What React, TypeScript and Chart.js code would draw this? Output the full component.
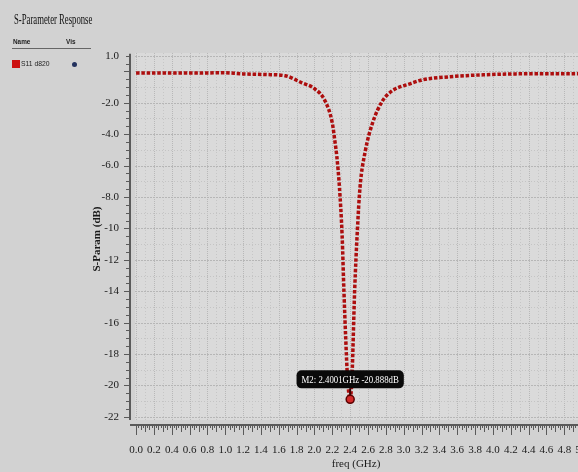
import React, { useEffect, useRef } from 'react';
import { Chart, registerables } from 'chart.js';

Chart.register(...registerables);

// ---- data ----
const freqGHz = [0.0, 0.4, 0.8, 0.95, 1.2, 1.45, 1.67, 1.86, 2.0, 2.12, 2.2, 2.23, 2.25, 2.28, 2.31, 2.33, 2.35, 2.37, 2.4, 2.42, 2.45, 2.48, 2.51, 2.57, 2.65, 2.76, 2.87, 3.07, 3.21, 3.52, 3.89, 4.26, 4.6, 5.0];
const s11dB = [-0.1, -0.1, -0.1, -0.08, -0.16, -0.2, -0.28, -0.73, -1.1, -1.9, -3.3, -4.5, -5.4, -7.4, -10.5, -14, -17, -19.5, -20.888, -19.5, -14, -10.2, -7.4, -5.06, -3.3, -1.9, -1.24, -0.79, -0.54, -0.34, -0.22, -0.16, -0.15, -0.15];

const xTickLabels = ['0.0', '0.2', '0.4', '0.6', '0.8', '1.0', '1.2', '1.4', '1.6', '1.8', '2.0', '2.2', '2.4', '2.6', '2.8', '3.0', '3.2', '3.4', '3.6', '3.8', '4.0', '4.2', '4.4', '4.6', '4.8', '5.0'];
const yTickLabels = ['1.0', '-2.0', '-4.0', '-6.0', '-8.0', '-10', '-12', '-14', '-16', '-18', '-20', '-22'];

const markerName = 'M2';
const markerFreq = 2.4001;
const markerDb = -20.888;

const seriesName = 'S11 d820';
const chartTitle = 'S-Parameter Response';

// ---- styles ----
const SERIF = "'Liberation Serif', 'Times New Roman', serif";
const OUTER_BG = '#d2d2d2';
const PLOT_BG = '#dadada';
const CURVE = '#ad0e0e';

const X_MIN = -0.068;
const X_MAX = 5.0;
const Y_MIN = -22.52;
const Y_MAX = 1.17;

const plotPlugin = {
  id: 'plotDecor',
  beforeDatasetsDraw(chart: any) {
    const { ctx, chartArea: a, scales } = chart;
    const x = scales.x;
    const y = scales.y;
    const L = a.left + 5;
    const B = a.bottom - 5;
    ctx.save();
    ctx.fillStyle = PLOT_BG;
    ctx.fillRect(L, a.top, a.right - L, B - a.top);
    ctx.beginPath();
    ctx.rect(L, a.top, a.right - L, B - a.top);
    ctx.clip();
    ctx.lineWidth = 1;
    for (let i = 0; i <= 50; i++) {
      const px = Math.round(x.getPixelForValue(i / 10)) + 0.5;
      const major = i % 2 === 0;
      ctx.strokeStyle = major ? '#b8b8b8' : '#c6c6c6';
      ctx.setLineDash(major ? [1, 1] : [1, 2]);
      ctx.beginPath();
      ctx.moveTo(px, a.top);
      ctx.lineTo(px, B);
      ctx.stroke();
    }
    for (let v = -22; v <= 1; v++) {
      const py = Math.round(y.getPixelForValue(v)) + 0.5;
      const major = v % 2 === 0 || v === 1;
      ctx.strokeStyle = major ? '#b6b6b6' : '#c4c4c4';
      ctx.setLineDash(major ? [2, 1] : [1, 2]);
      ctx.beginPath();
      ctx.moveTo(L, py);
      ctx.lineTo(a.right, py);
      ctx.stroke();
    }
    ctx.restore();

    ctx.save();
    ctx.strokeStyle = '#5a5a5a';
    ctx.setLineDash([]);
    ctx.lineWidth = 2;
    ctx.beginPath();
    ctx.moveTo(a.left, a.bottom);
    ctx.lineTo(a.right, a.bottom);
    ctx.stroke();
    ctx.lineWidth = 1;
    for (let i = 0; i <= 200; i++) {
      const px = Math.round(x.getPixelForValue(i * 0.025)) + 0.5;
      const len = i % 8 === 0 ? 10 : i % 4 === 0 ? 7 : i % 2 === 0 ? 5 : 3;
      ctx.beginPath();
      ctx.moveTo(px, a.bottom);
      ctx.lineTo(px, a.bottom + len);
      ctx.stroke();
    }
    ctx.lineWidth = 2;
    ctx.beginPath();
    ctx.moveTo(a.left, y.getPixelForValue(1.0) - 2);
    ctx.lineTo(a.left, B);
    ctx.stroke();
    ctx.lineWidth = 1;
    for (let i = 0; i <= 46; i++) {
      const v = -22 + i * 0.5;
      const py = Math.round(y.getPixelForValue(v)) + 0.5;
      const len = i % 4 === 0 ? 6 : 4;
      ctx.beginPath();
      ctx.moveTo(a.left, py);
      ctx.lineTo(a.left - len, py);
      ctx.stroke();
    }
    ctx.restore();
  },
  afterDatasetsDraw(chart: any) {
    const { ctx, scales } = chart;
    const px = scales.x.getPixelForValue(markerFreq);
    const py = scales.y.getPixelForValue(markerDb);
    const text = `${markerName}: ${markerFreq.toFixed(4)}GHz ${markerDb.toFixed(3)}dB`;
    const sx = 0.8;
    ctx.save();
    ctx.font = `11px ${SERIF}`;
    const w = ctx.measureText(text).width * sx + 10;
    const h = 18;
    const bx = px - w / 2;
    const by = py - 11 - h;
    ctx.strokeStyle = '#3a0000';
    ctx.lineWidth = 2;
    ctx.beginPath();
    ctx.moveTo(px, by + h);
    ctx.lineTo(px, py - 3);
    ctx.stroke();
    ctx.fillStyle = '#0a0a0a';
    ctx.beginPath();
    (ctx as any).roundRect(bx, by, w, h, 5);
    ctx.fill();
    ctx.translate(px, by + h / 2 + 0.5);
    ctx.scale(sx, 1);
    ctx.fillStyle = '#ffffff';
    ctx.textAlign = 'center';
    ctx.textBaseline = 'middle';
    ctx.fillText(text, 0, 0);
    ctx.setTransform(1, 0, 0, 1, 0, 0);
    ctx.beginPath();
    ctx.arc(px, py, 4, 0, Math.PI * 2);
    ctx.fillStyle = '#d42a2a';
    ctx.fill();
    ctx.lineWidth = 1.5;
    ctx.strokeStyle = '#5a0000';
    ctx.stroke();
    ctx.restore();
  },
};

export default function App() {
  const ref = useRef<HTMLCanvasElement | null>(null);

  useEffect(() => {
    if (!ref.current) return;
    const tickFont = { family: SERIF, size: 11 };
    const chart = new Chart(ref.current, {
      type: 'line',
      data: {
        datasets: [
          {
            label: seriesName,
            data: freqGHz.map((f, i) => ({ x: f, y: s11dB[i] })),
            borderColor: CURVE,
            borderWidth: 3.5,
            borderDash: [3.5, 1.8],
            pointRadius: 0,
            cubicInterpolationMode: 'monotone',
            fill: false,
          },
        ],
      },
      options: {
        animation: false,
        responsive: false,
        devicePixelRatio: 1,
        layout: { padding: { left: 0, top: 53, right: 15, bottom: 0 } },
        plugins: { legend: { display: false }, tooltip: { enabled: false } },
        scales: {
          x: {
            type: 'linear',
            min: X_MIN,
            max: X_MAX,
            afterBuildTicks: (ax: any) => {
              ax.ticks = xTickLabels.map((s) => ({ value: parseFloat(s) }));
            },
            afterFit: (s: any) => {
              s.height = 47;
            },
            ticks: {
              autoSkip: false,
              maxRotation: 0,
              minRotation: 0,
              padding: 11,
              color: '#1a1a1a',
              font: tickFont,
              callback: (_v: any, i: number) => xTickLabels[i],
            },
            grid: { display: false },
            border: { display: false },
            title: {
              display: true,
              text: 'freq (GHz)',
              color: '#1a1a1a',
              font: { family: SERIF, size: 11 },
              padding: { top: 0, bottom: 1 },
            },
          },
          y: {
            type: 'linear',
            min: Y_MIN,
            max: Y_MAX,
            afterBuildTicks: (ax: any) => {
              ax.ticks = yTickLabels.map((s) => ({ value: parseFloat(s) }));
            },
            afterFit: (s: any) => {
              s.width = 130;
            },
            ticks: {
              autoSkip: false,
              padding: 3,
              color: '#1a1a1a',
              font: tickFont,
              callback: (_v: any, i: number) => yTickLabels[i],
            },
            grid: { display: false },
            border: { display: false },
            title: {
              display: true,
              text: 'S-Param (dB)',
              color: '#1a1a1a',
              font: { family: SERIF, size: 11, weight: 'bold' },
              padding: { top: 91, bottom: 0 },
            },
          },
        },
      },
      plugins: [plotPlugin],
    } as any);
    return () => chart.destroy();
  }, []);

  return (
    <div
      style={{
        position: 'fixed',
        left: 0,
        top: 0,
        width: 578,
        height: 472,
        overflow: 'hidden',
        background: OUTER_BG,
      }}
    >
      <canvas
        ref={ref}
        width={600}
        height={472}
        style={{ position: 'absolute', left: 0, top: 0, width: 600, height: 472 }}
      />
      <div
        style={{
          position: 'absolute',
          left: 14,
          top: 12,
          fontFamily: SERIF,
          fontSize: 14,
          lineHeight: '16px',
          color: '#111',
          whiteSpace: 'nowrap',
          transform: 'scaleX(0.62)',
          transformOrigin: 'left top',
        }}
      >
        {chartTitle}
      </div>
      <div
        style={{
          position: 'absolute',
          left: 13,
          top: 37,
          fontFamily: "'Liberation Sans', Arial, sans-serif",
          fontSize: 8,
          fontWeight: 'bold',
          color: '#222',
          whiteSpace: 'nowrap',
          transform: 'scaleX(0.8)',
          transformOrigin: 'left top',
        }}
      >
        Name
      </div>
      <div
        style={{
          position: 'absolute',
          left: 66,
          top: 37,
          fontFamily: "'Liberation Sans', Arial, sans-serif",
          fontSize: 8,
          fontWeight: 'bold',
          color: '#222',
          whiteSpace: 'nowrap',
          transform: 'scaleX(0.8)',
          transformOrigin: 'left top',
        }}
      >
        Vis
      </div>
      <div style={{ position: 'absolute', left: 12, top: 48, width: 79, height: 1, background: '#666' }} />
      <div style={{ position: 'absolute', left: 12, top: 60, width: 8, height: 8, background: '#cc1010' }} />
      <div
        style={{
          position: 'absolute',
          left: 21,
          top: 59,
          fontFamily: "'Liberation Sans', Arial, sans-serif",
          fontSize: 8,
          color: '#222',
          whiteSpace: 'nowrap',
          transform: 'scaleX(0.85)',
          transformOrigin: 'left top',
        }}
      >
        {seriesName}
      </div>
      <div
        style={{
          position: 'absolute',
          left: 72,
          top: 62,
          width: 5,
          height: 5,
          borderRadius: '50%',
          background: '#23325e',
        }}
      />
    </div>
  );
}
